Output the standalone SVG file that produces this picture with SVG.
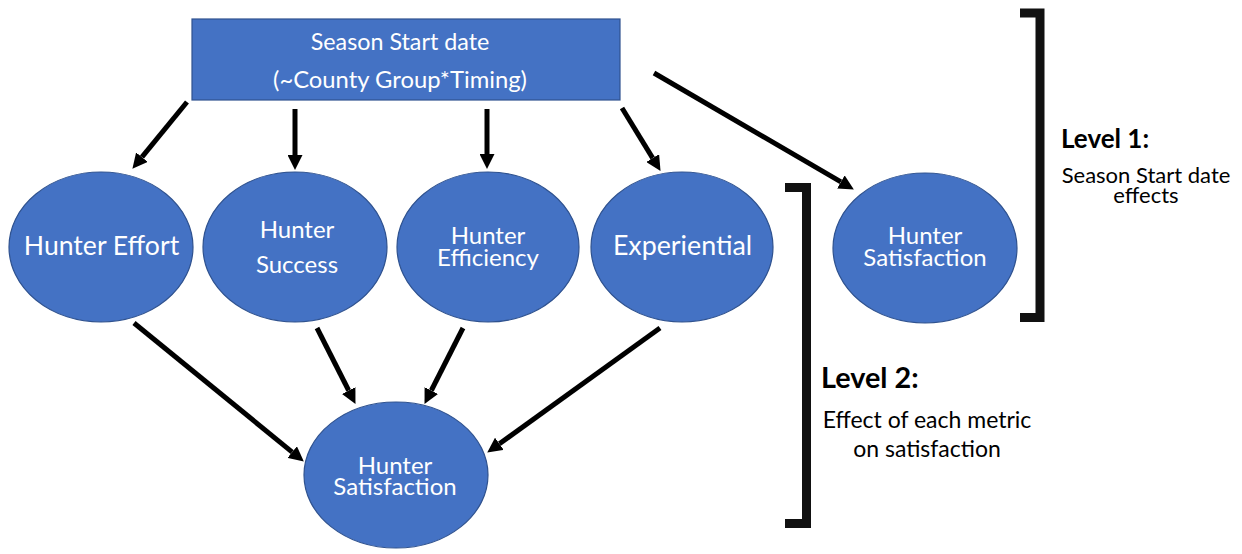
<svg xmlns="http://www.w3.org/2000/svg" width="1242" height="554" viewBox="0 0 1242 554">
<defs>
<marker id="ah" viewBox="0 0 14 14" refX="0" refY="7" markerWidth="15" markerHeight="15" markerUnits="userSpaceOnUse" orient="auto">
<path d="M0,0 L14,7 L0,14 z" fill="#000"/>
</marker>
</defs>
<style>
.node{fill:#4472C4;stroke:#2F528F;stroke-width:1.2}
.nt{font-family:Lato,"Liberation Sans",sans-serif;fill:#fff;text-anchor:middle}
.lt{font-family:Lato,"Liberation Sans",sans-serif;fill:#000}
.conn line{stroke:#000;stroke-width:5;marker-end:url(#ah)}
.br{fill:none;stroke:#111;stroke-width:9}
</style>
<rect width="1242" height="554" fill="#fff"/>
<g id="start">
<rect class="node" x="192" y="19" width="428" height="81"/>
<text class="nt" x="400" y="50" font-size="23.3">Season Start date</text>
<text class="nt" x="400" y="88" font-size="23.8">(~County Group*Timing)</text>
</g>
<g id="effort">
<ellipse class="node" cx="101" cy="247" rx="92" ry="75"/>
<text class="nt" x="101.5" y="255" font-size="26.6">Hunter Effort</text>
</g>
<g id="success">
<ellipse class="node" cx="295" cy="247" rx="92" ry="75"/>
<text class="nt" x="297" y="238" font-size="24">Hunter</text>
<text class="nt" x="297" y="273" font-size="24">Success</text>
</g>
<g id="efficiency">
<ellipse class="node" cx="488" cy="247" rx="91" ry="75"/>
<text class="nt" x="488" y="244" font-size="24">Hunter</text>
<text class="nt" x="488" y="266" font-size="24">Efficiency</text>
</g>
<g id="experiential">
<ellipse class="node" cx="682" cy="247" rx="91" ry="75"/>
<text class="nt" x="682.5" y="255" font-size="26.8">Experiential</text>
</g>
<g id="satisfaction1">
<ellipse class="node" cx="925" cy="248" rx="92" ry="75"/>
<text class="nt" x="925" y="244" font-size="24">Hunter</text>
<text class="nt" x="925" y="266" font-size="24">Satisfaction</text>
</g>
<g id="satisfaction2">
<ellipse class="node" cx="396" cy="475" rx="92" ry="73"/>
<text class="nt" x="395" y="474" font-size="24">Hunter</text>
<text class="nt" x="395" y="495" font-size="24">Satisfaction</text>
</g>
<g id="connectors" class="conn">
<line x1="187" y1="102" x2="141.9" y2="157.2"/>
<line x1="295" y1="109" x2="295" y2="155"/>
<line x1="487" y1="109" x2="487" y2="154"/>
<line x1="622" y1="108" x2="652.7" y2="158.1"/>
<line x1="654" y1="73" x2="840.9" y2="181.9"/>
<line x1="134" y1="323" x2="292.2" y2="452.1"/>
<line x1="317" y1="328" x2="348.7" y2="390.5"/>
<line x1="463" y1="328" x2="431.3" y2="390.5"/>
<line x1="660" y1="328" x2="499.4" y2="443.8"/>
</g>
<g id="level1">
<path class="br" d="M1020,13 H1040 V317.5 H1020"/>
<text class="lt" x="1061" y="148" font-size="26" font-weight="bold">Level 1:</text>
<text class="lt" x="1146" y="183" font-size="22" text-anchor="middle">Season Start date</text>
<text class="lt" x="1146" y="203" font-size="22" text-anchor="middle">effects</text>
</g>
<g id="level2">
<path class="br" d="M785,187.5 H806.5 V523.5 H785"/>
<text class="lt" x="821" y="388" font-size="28.8" font-weight="bold">Level 2:</text>
<text class="lt" x="927" y="428" font-size="23" text-anchor="middle">Effect of each metric</text>
<text class="lt" x="927" y="457" font-size="23" text-anchor="middle">on satisfaction</text>
</g>
</svg>
